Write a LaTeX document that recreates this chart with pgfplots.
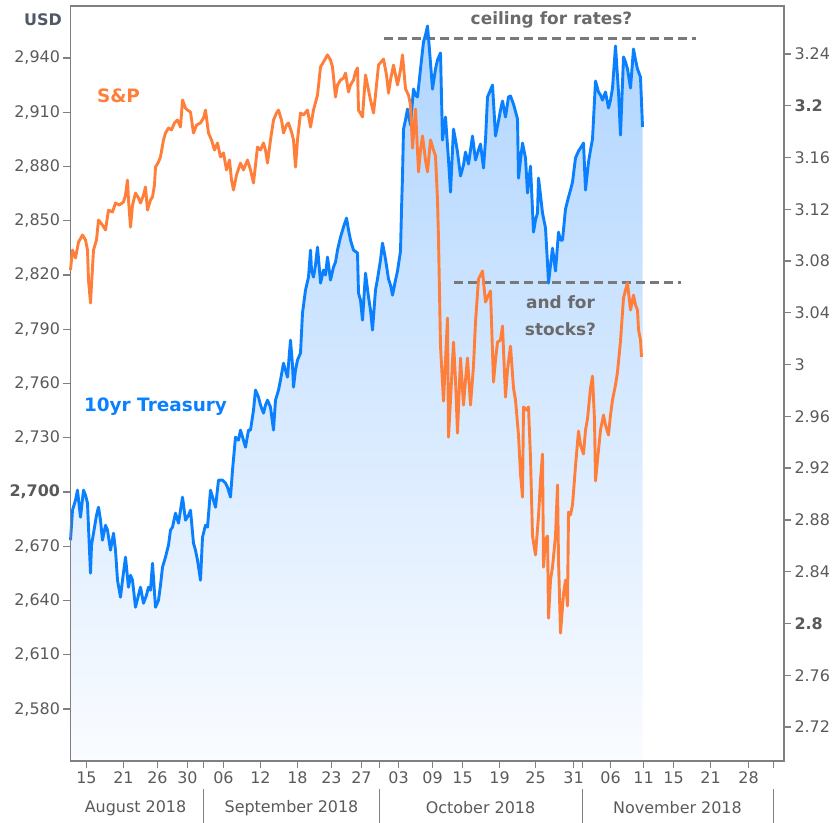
\documentclass[border=0pt]{standalone}
\usepackage{pgfplots}
\usepackage{pgfplotstable}
\pgfplotsset{compat=1.18}
\usepackage{fontspec}
\setmainfont{DejaVu Sans}
\definecolor{spo}{HTML}{FF7F3A}
\definecolor{tyb}{HTML}{0A80FF}
\definecolor{axg}{HTML}{808080}
\definecolor{txg}{HTML}{5A5A5A}
\definecolor{ann}{HTML}{6A6A6A}
\definecolor{usd}{HTML}{4F5868}
\definecolor{fillt}{RGB}{176,213,255}
\definecolor{fillb}{RGB}{250,252,255}

\pgfplotstableread{
x y
0 2822.8
2 2833.8
5 2829.4
8 2838.2
12 2842.1
15 2839.4
17 2833.8
18 2817.2
20 2804.5
21 2814.5
23 2833.8
26 2839.4
28 2850.4
32 2847.6
35 2844.9
38 2855.9
42 2854.8
45 2859.8
49 2858.7
53 2860.4
55 2864.2
57 2872.5
58 2861.5
60 2846.5
62 2858.7
65 2865.3
68 2862.6
70 2859.8
73 2864.2
75 2868.7
77 2855.9
80 2861.5
82 2863.1
84 2869.8
85 2879.7
88 2882.5
90 2885.3
93 2894.7
95 2898.5
98 2901.3
101 2900.2
104 2904.1
107 2905.7
110 2901.8
112 2916.8
115 2912.3
117 2911.2
120 2910.1
123 2898.5
126 2902.9
130 2904.1
133 2906.8
135 2911.2
138 2898.5
141 2894.7
144 2889.1
147 2893
150 2885.3
153 2887.5
156 2878.1
159 2883.6
161 2872.5
163 2867
166 2875.3
170 2881.9
173 2878.1
177 2883.6
180 2878.1
183 2870.9
187 2890.8
190 2889.1
193 2893
195 2889.1
197 2881.9
200 2894.7
203 2905.7
206 2909.6
208 2911.2
211 2905.7
213 2898.5
216 2902.9
218 2904.1
221 2899.1
223 2894.7
225 2879.7
227 2894.7
230 2909.6
233 2908.5
237 2911.2
240 2901.8
243 2911.2
247 2919.5
250 2935
253 2937.8
257 2941.7
260 2938.9
262 2935
265 2918.4
267 2925.1
270 2927.8
273 2928.9
275 2931.7
278 2921.2
280 2925.1
283 2927.8
285 2932.3
287 2934.5
288 2911.2
292 2907.4
295 2930.6
298 2922.3
300 2916.8
303 2909.6
305 2919.5
308 2936.1
313 2939.4
316 2930.6
318 2920.6
320 2927.8
323 2936.1
325 2930.6
327 2925.1
330 2933.4
332 2941.7
335 2922.9
338 2919.5
340 2914
342 2890.2
345 2911.8
348 2877
350 2889.1
352 2896.9
355 2883.6
357 2877
360 2894.7
363 2889.1
365 2885.8
367 2861.5
368 2839.9
370 2780.7
373 2750.3
375 2773
377 2796.2
378 2730.4
380 2750.9
383 2782.9
385 2761.9
387 2732.6
390 2774.1
393 2748.1
395 2761.9
397 2774.1
400 2748.1
403 2769.7
405 2794
408 2817.8
410 2820
412 2822.2
415 2805.1
418 2808.9
420 2811.2
423 2760.8
425 2773
427 2782.9
430 2784.1
432 2791.8
435 2752.5
437 2767.5
440 2780.7
443 2757.5
445 2750.9
448 2731.5
450 2710
452 2697.2
453 2747
456 2745.3
458 2747
460 2718.8
462 2675.7
465 2665.2
468 2686.7
470 2706.6
472 2721
473 2658.5
475 2673.5
477 2675.7
478 2630.3
480 2651.3
482 2658.5
485 2675.7
487 2703.9
488 2662.4
490 2622
493 2643.6
495 2651.3
497 2637
498 2688.9
500 2687.3
502 2692.8
505 2714.4
508 2733.7
510 2726
513 2721
515 2734.3
517 2740.4
520 2757.5
522 2764.1
524 2739.8
525 2706.1
528 2723.2
530 2734.3
533 2742.6
535 2737
538 2731.5
540 2742.6
542 2750.9
545 2759.2
547 2766.4
550 2783.5
553 2807.3
555 2811.7
557 2815.6
560 2800.6
563 2808.9
565 2803.4
567 2800.6
568 2789.6
570 2784.1
571 2774.7
}\spx

\pgfplotstableread{
x y
0 2.8643
2 2.8875
5 2.8952
7 2.9030
10 2.8821
13 2.9030
15 2.8991
17 2.8929
18 2.8744
20 2.8388
21 2.8605
23 2.8697
26 2.8836
28 2.8898
30 2.8798
32 2.8643
35 2.8759
37 2.8721
40 2.8566
43 2.8697
45 2.8566
47 2.8334
50 2.8203
52 2.8334
55 2.8512
58 2.8280
60 2.8373
62 2.8334
65 2.8125
68 2.8218
70 2.8280
73 2.8156
76 2.8218
78 2.8280
80 2.8257
82 2.8465
85 2.8125
88 2.8179
90 2.8295
92 2.8435
95 2.8512
98 2.8605
100 2.8721
102 2.8744
105 2.8852
108 2.8775
110 2.8875
112 2.8976
115 2.8798
118 2.8836
120 2.8875
123 2.8620
125 2.8566
127 2.8489
130 2.8334
132 2.8666
135 2.8759
137 2.8744
140 2.9030
143 2.8952
145 2.8898
148 2.9107
152 2.9107
155 2.9084
157 2.9053
160 2.8976
162 2.9184
165 2.9439
168 2.9416
170 2.9494
173 2.9416
175 2.9362
178 2.9494
180 2.9494
183 2.9648
185 2.9803
188 2.9749
190 2.9687
193 2.9625
195 2.9687
197 2.9725
200 2.9671
203 2.9494
205 2.9725
208 2.9803
210 2.9880
213 3.0011
215 2.9957
217 2.9903
220 3.0189
222 2.9996
223 2.9826
225 2.9957
227 3.0035
230 3.0089
232 3.0398
235 3.0576
238 3.0676
240 3.0885
241 3.0730
243 3.0676
245 3.0769
247 3.0908
249 3.0730
250 3.0630
253 3.0730
255 3.0692
257 3.0831
260 3.0653
263 3.0754
265 3.0792
267 3.0885
270 3.0985
273 3.1063
276 3.1132
278 3.1040
280 3.0962
283 3.0885
287 3.0862
288 3.0553
290 3.0498
292 3.0344
295 3.0707
298 3.0522
300 3.0421
302 3.0267
305 3.0576
307 3.0661
310 3.0808
312 3.0939
315 3.0815
318 3.0661
320 3.0614
322 3.0537
325 3.0653
327 3.0723
330 3.0877
331 3.1194
332 3.1457
333 3.1820
335 3.1890
337 3.1975
340 3.1851
343 3.2129
345 3.2083
347 3.2068
350 3.2284
353 3.2493
355 3.2547
357 3.2616
359 3.2431
362 3.2129
365 3.2284
367 3.2354
370 3.2408
372 3.1735
375 3.1913
378 3.1581
380 3.1333
383 3.1820
385 3.1735
387 3.1642
390 3.1457
393 3.1542
395 3.1642
398 3.1550
400 3.1658
402 3.1766
405 3.1581
408 3.1658
410 3.1704
413 3.1519
415 3.1735
417 3.2068
420 3.2122
422 3.2160
425 3.1766
428 3.1882
430 3.1967
432 3.2037
435 3.1913
438 3.2068
440 3.2075
443 3.2013
447 3.1898
448 3.1441
450 3.1581
452 3.1712
455 3.1596
457 3.1326
460 3.1534
463 3.1024
465 3.1117
467 3.1171
468 3.1441
470 3.1310
472 3.1171
475 3.1055
477 3.0784
478 3.0630
480 3.0769
482 3.0900
485 3.0723
488 3.1024
490 3.0962
492 3.0962
495 3.1202
498 3.1295
500 3.1349
502 3.1411
505 3.1596
508 3.1650
510 3.1673
513 3.1712
515 3.1349
518 3.1565
520 3.1658
522 3.1743
525 3.2191
528 3.2106
530 3.2083
532 3.2044
535 3.2106
538 3.1983
540 3.2044
542 3.2137
545 3.2462
548 3.2106
550 3.1774
553 3.2377
555 3.2338
557 3.2284
560 3.2137
563 3.2439
565 3.2354
567 3.2284
570 3.2222
572 3.1836
}\tsy

\begin{document}
\begin{tikzpicture}
\useasboundingbox (-70.5bp,-62bp) rectangle (766.5bp,761bp);
% right axis: 10yr Treasury
\begin{axis}[
  at={(0,0)}, anchor=south west, scale only axis,
  width=713.5bp, height=755bp,
  xmin=0, xmax=713.5, ymin=2.6937, ymax=3.2771,
  axis x line=none, axis y line*=right,
  axis line style={axg, line width=1.6bp},
  tick align=outside, major tick length=7bp,
  ytick={2.72,2.76,2.8,2.84,2.88,2.92,2.96,3,3.04,3.08,3.12,3.16,3.2,3.24},
  yticklabels={2.72,2.76,{\textbf{2.8}},2.84,2.88,2.92,2.96,3,3.04,3.08,3.12,3.16,{\textbf{3.2}},3.24},
  yticklabel style={font=\fontsize{16}{19}\selectfont, text=txg},
  y tick style={axg, line width=1.3bp},
  clip=false,
]
\addplot[draw=none, top color=fillt, bottom color=fillb, forget plot] table[x=x,y=y] {\tsy} -- (axis cs:572,2.6937) -- (axis cs:0,2.6937) -- cycle;
\draw[ann!90, line width=3bp, dash pattern=on 9bp off 5bp] (axis cs:313,3.252) -- (axis cs:625,3.252);
\addplot[tyb, line width=2.9bp, line join=round, no markers] table[x=x,y=y] {\tsy};
\end{axis}
% left axis: S&P
\begin{axis}[
  at={(0,0)}, anchor=south west, scale only axis,
  width=713.5bp, height=755bp,
  xmin=0, xmax=713.5, ymin=2551.26, ymax=2968.76,
  axis line style={axg, line width=1.6bp},
  tick align=outside, major tick length=7bp,
  xtick pos=left, ytick pos=left,
  ytick={2580,2610,2640,2670,2700,2730,2760,2790,2820,2850,2880,2910,2940},
  yticklabels={{2,580},{2,610},{2,640},{2,670},{\textbf{2,700}},{2,730},{2,760},{2,790},{2,820},{2,850},{2,880},{2,910},{2,940}},
  yticklabel style={font=\fontsize{16}{19}\selectfont, text=txg},
  xtick={16,53,87,117,153,190,227,261,291,328,362,392,429,465,503,540,573,603,640,678},
  xticklabels={15,21,26,30,06,12,18,23,27,03,09,15,19,25,31,06,11,15,21,28},
  extra x ticks={133,309,512,703},
  extra x tick labels={},
  xticklabel style={font=\fontsize{16}{19}\selectfont, text=txg},
  tick style={axg, line width=1.3bp},
  clip=false,
]
\draw[ann!90, line width=3bp, dash pattern=on 9bp off 5bp] (axis cs:383,2815.6) -- (axis cs:610,2815.6);
\addplot[spo, line width=2.9bp, line join=round, no markers] table[x=x,y=y] {\spx};
\node[font=\fontsize{18.5}{22}\selectfont\bfseries, text=spo] at (axis cs:48,2919) {S\&P};
\node[font=\fontsize{18.5}{22}\selectfont\bfseries, text=tyb] at (axis cs:85,2747) {10yr Treasury};
\node[font=\fontsize{17}{20}\selectfont\bfseries, text=ann] at (axis cs:481,2961) {ceiling for rates?};
\node[font=\fontsize{17}{27}\selectfont\bfseries, text=ann, align=center] at (axis cs:490,2797.5) {and for\\stocks?};
% month labels
\node[font=\fontsize{16}{19}\selectfont, text=txg, yshift=-47bp] at (axis cs:65,2551.26) {August 2018};
\node[font=\fontsize{16}{19}\selectfont, text=txg, yshift=-47bp] at (axis cs:221,2551.26) {September 2018};
\node[font=\fontsize{16}{19}\selectfont, text=txg, yshift=-47bp] at (axis cs:410,2551.26) {October 2018};
\node[font=\fontsize{16}{19}\selectfont, text=txg, yshift=-47bp] at (axis cs:607,2551.26) {November 2018};
\end{axis}
% month separators
\draw[axg, line width=1.3bp] (133bp,-28bp) -- (133bp,-62bp);
\draw[axg, line width=1.3bp] (309bp,-28bp) -- (309bp,-62bp);
\draw[axg, line width=1.3bp] (512bp,-28bp) -- (512bp,-62bp);
\draw[axg, line width=1.3bp] (703bp,-28bp) -- (703bp,-62bp);
\node[font=\fontsize{16}{19}\selectfont\bfseries, text=usd] at (-27.5bp,741bp) {USD};
\end{tikzpicture}
\end{document}
